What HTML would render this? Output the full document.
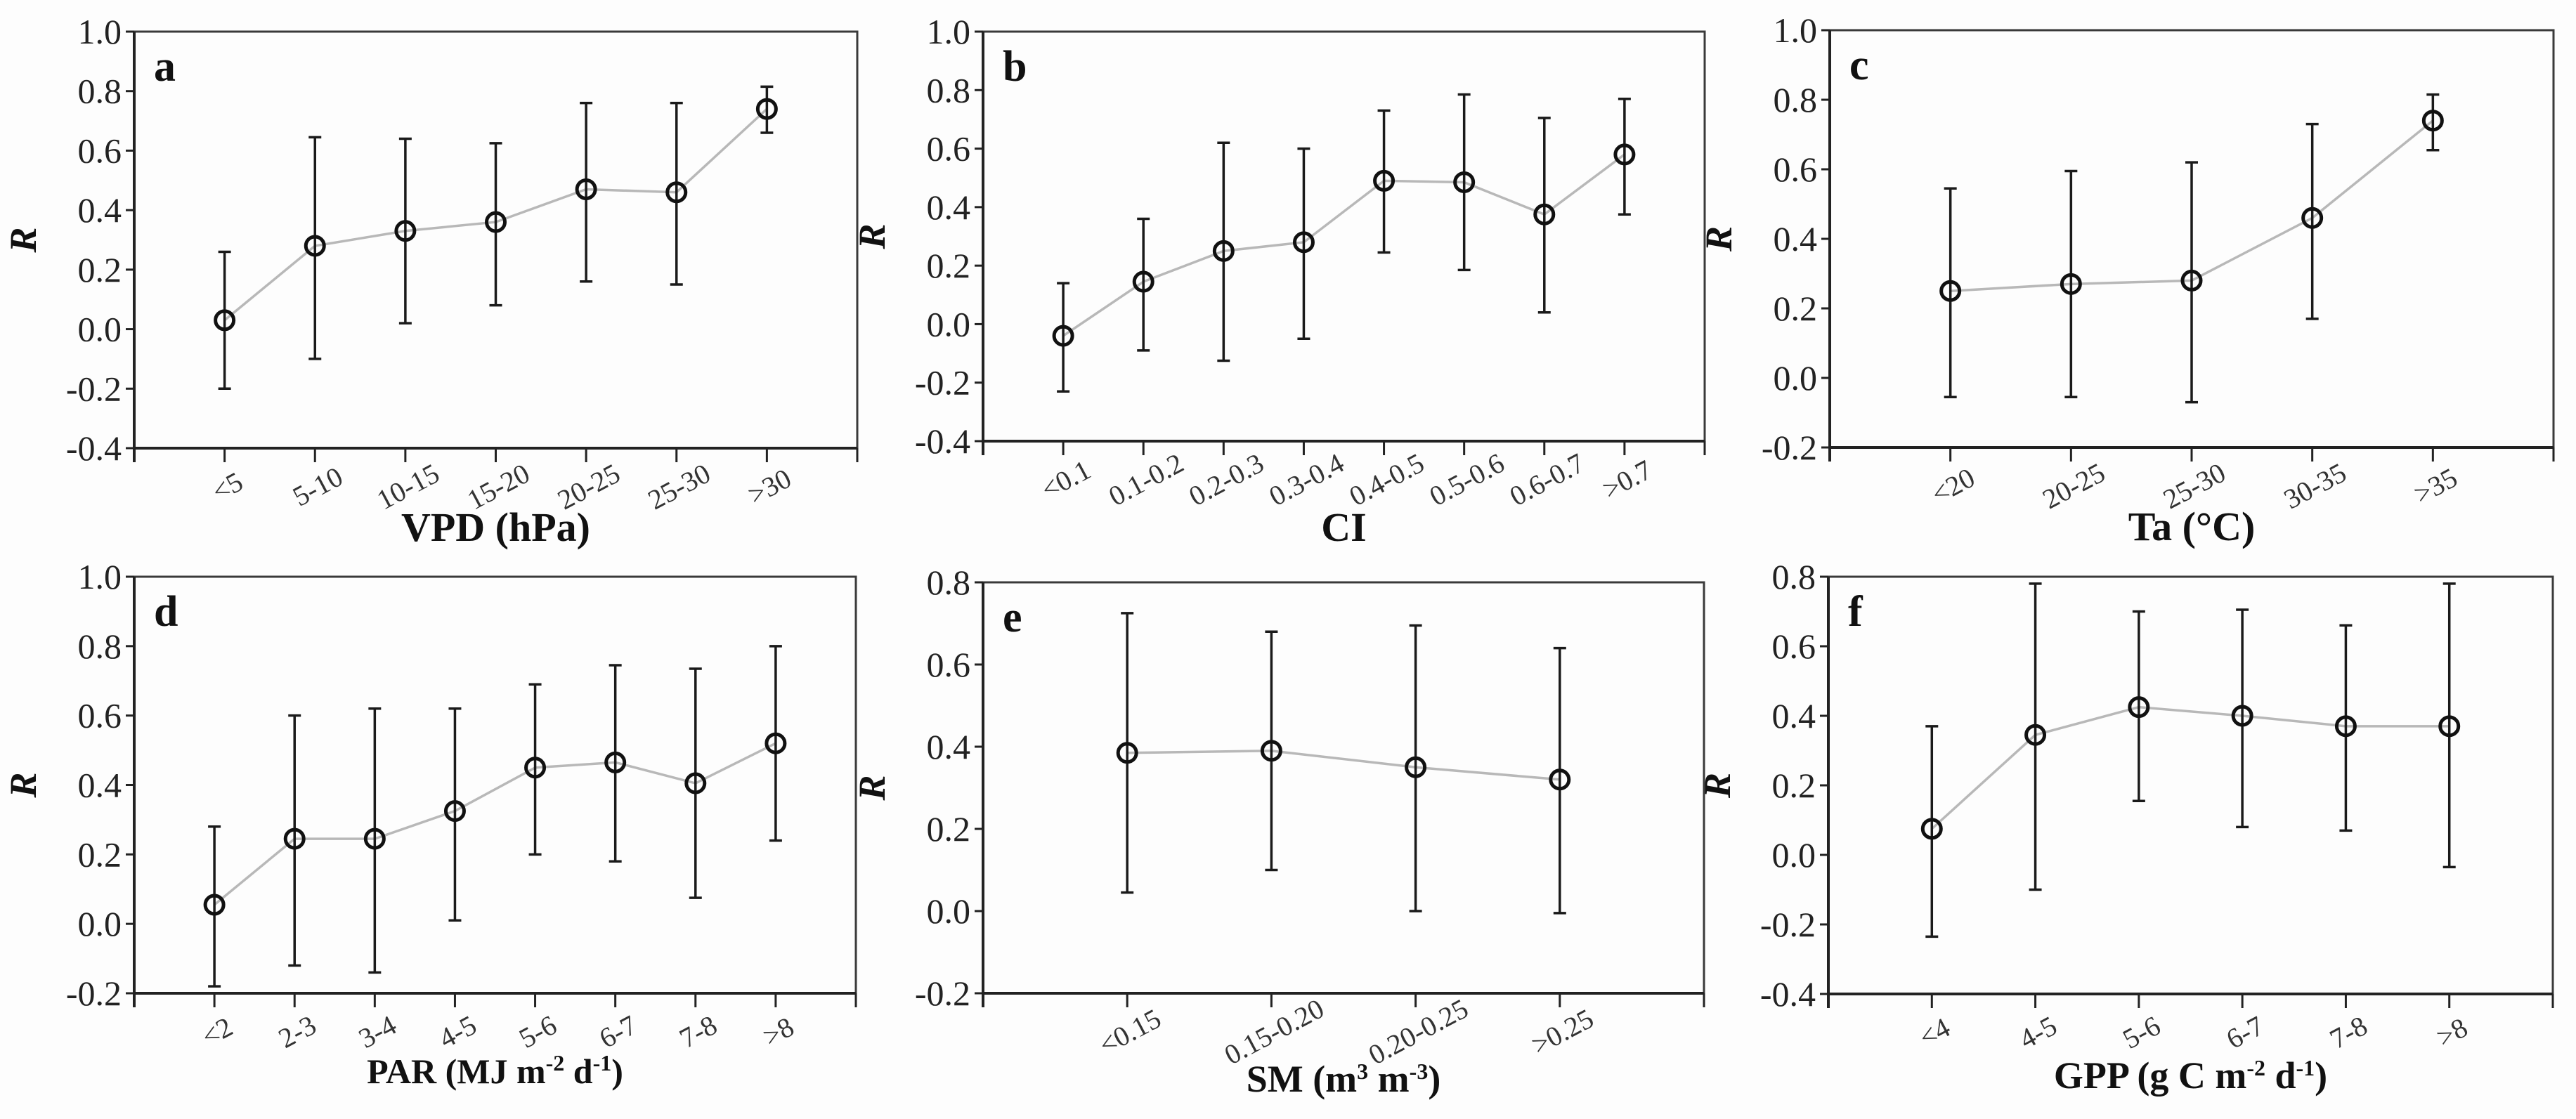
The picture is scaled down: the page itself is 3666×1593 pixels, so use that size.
<!DOCTYPE html>
<html><head><meta charset="utf-8"><style>
html,body{margin:0;padding:0;background:#fff;}
svg{display:block;font-family:"Liberation Serif",serif;}
</style></head><body>
<svg id="fig" width="3666" height="1593" viewBox="0 0 3666 1593" xmlns="http://www.w3.org/2000/svg">
<rect width="3666" height="1593" fill="#fdfdfd"/>
</svg>
<script>
// Panel a
const catsA = ["<5","5-10","10-15","15-20","20-25","25-30",">30"];
const meanA = [0.03,0.28,0.33,0.36,0.47,0.46,0.74];
const loA = [-0.20,-0.10,0.02,0.08,0.16,0.15,0.66];
const hiA = [0.26,0.645,0.64,0.625,0.76,0.76,0.815];
// Panel b
const catsB = ["<0.1","0.1-0.2","0.2-0.3","0.3-0.4","0.4-0.5","0.5-0.6","0.6-0.7",">0.7"];
const meanB = [-0.04,0.145,0.25,0.28,0.49,0.485,0.375,0.58];
const loB = [-0.23,-0.09,-0.125,-0.05,0.245,0.185,0.04,0.375];
const hiB = [0.14,0.36,0.62,0.60,0.73,0.785,0.705,0.77];
// Panel c
const catsC = ["<20","20-25","25-30","30-35",">35"];
const meanC = [0.25,0.27,0.28,0.46,0.74];
const loC = [-0.055,-0.055,-0.07,0.17,0.655];
const hiC = [0.545,0.595,0.62,0.73,0.815];
// Panel d
const catsD = ["<2","2-3","3-4","4-5","5-6","6-7","7-8",">8"];
const meanD = [0.055,0.245,0.245,0.325,0.45,0.465,0.405,0.52];
const loD = [-0.18,-0.12,-0.14,0.01,0.20,0.18,0.075,0.24];
const hiD = [0.28,0.60,0.62,0.62,0.69,0.745,0.735,0.80];
// Panel e
const catsE = ["<0.15","0.15-0.20","0.20-0.25",">0.25"];
const meanE = [0.385,0.39,0.35,0.32];
const loE = [0.045,0.10,0.0,-0.005];
const hiE = [0.725,0.68,0.695,0.64];
// Panel f
const catsF = ["<4","4-5","5-6","6-7","7-8",">8"];
const meanF = [0.075,0.345,0.425,0.40,0.37,0.37];
const loF = [-0.235,-0.10,0.155,0.08,0.07,-0.035];
const hiF = [0.37,0.78,0.70,0.705,0.66,0.78];
// tick labels
const ticksA = ["-0.4","-0.2","0.0","0.2","0.4","0.6","0.8","1.0"];
const ticksB = ticksA;
const ticksC = ["-0.2","0.0","0.2","0.4","0.6","0.8","1.0"];
const ticksD = ticksC;
const ticksE = ["-0.2","0.0","0.2","0.4","0.6","0.8"];
const ticksF = ["-0.4","-0.2","0.0","0.2","0.4","0.6","0.8"];

const NS="http://www.w3.org/2000/svg";
const svg=document.getElementById('fig');
function mk(tag,attrs,parent){const e=document.createElementNS(NS,tag);for(const k in attrs)e.setAttribute(k,attrs[k]);(parent||svg).appendChild(e);return e;}

function panel(id,L,R,T,B,cats,mean,lo,hi,ticks,letter,titleHTML,titleSize,titleOff){
  const g=mk('g',{});
  
  
  const ymin=parseFloat(ticks[0]), ymax=parseFloat(ticks[ticks.length-1]);
  const y=v=>B-(v-ymin)/(ymax-ymin)*(B-T);
  const step=(R-L)/(cats.length+1);
  const x=i=>L+(i+1)*step;
  const fr=mk('rect',{x:L,y:T,width:R-L,height:B-T,fill:'none',stroke:'#3a3a3a','stroke-width':3},g);
  
  
  mk('line',{x1:L,y1:T,x2:L,y2:B+20,stroke:'#222','stroke-width':4},g);
  mk('line',{x1:L,y1:B,x2:R,y2:B,stroke:'#222','stroke-width':4},g);
  mk('line',{x1:R,y1:B,x2:R,y2:B+20,stroke:'#222','stroke-width':3},g);
  ticks.forEach(t=>{
    const v=parseFloat(t);
    mk('line',{x1:L-12,y1:y(v),x2:L,y2:y(v),stroke:'#222','stroke-width':3},g);
    const tx=mk('text',{x:L-18,y:y(v)+17,'text-anchor':'end','font-size':50,fill:'#222'},g);
    tx.textContent=t;
    
    
  });
  cats.forEach((c,i)=>{
    mk('line',{x1:x(i),y1:B,x2:x(i),y2:B+20,stroke:'#222','stroke-width':3},g);
    const tx=mk('text',{x:0,y:13,'text-anchor':'middle','font-size':40,fill:'#333',transform:`translate(${x(i)+4},${B+55}) rotate(-28)`},g);
    tx.textContent=c;
    
    
  });
  const pts=mean.map((m,i)=>x(i)+','+y(m)).join(' ');
  const pl=mk('polyline',{points:pts,fill:'none',stroke:'#b8b8b8','stroke-width':3.5},g);
  
  
  mean.forEach((m,i)=>{
    const eb=mk('g',{stroke:'#1a1a1a','stroke-width':3.5},g);
    
    
    mk('line',{x1:x(i),y1:y(lo[i]),x2:x(i),y2:y(hi[i])},eb);
    mk('line',{x1:x(i)-9,y1:y(lo[i]),x2:x(i)+9,y2:y(lo[i])},eb);
    mk('line',{x1:x(i)-9,y1:y(hi[i]),x2:x(i)+9,y2:y(hi[i])},eb);
  });
  mean.forEach((m,i)=>{
    const c=mk('circle',{cx:x(i),cy:y(m),r:13,fill:'none',stroke:'#111','stroke-width':5},g);
    
    
  });
  const lt=mk('text',{x:L+28,y:T+70,'font-size':62,'font-weight':'bold',fill:'#111'},g);
  lt.textContent=letter;
  
  
  const yt=mk('text',{x:0,y:0,'text-anchor':'middle','font-size':54,'font-weight':'bold','font-style':'italic',fill:'#111',transform:`translate(${L-140},${(T+B)/2}) rotate(-90)`},g);
  yt.textContent='R';
  
  
  const xt=mk('text',{x:(L+R)/2,y:B+titleOff,'text-anchor':'middle','font-size':titleSize,'font-weight':'bold',fill:'#111'},g);
  xt.innerHTML=titleHTML;
  
  
}
const sup=s=>`<tspan baseline-shift="super" font-size="32">${s}</tspan>`;
panel('a',191,1220,45,638,catsA,meanA,loA,hiA,ticksA,'a','VPD (hPa)',58,132);
panel('b',1399,2426,45,628,catsB,meanB,loB,hiB,ticksB,'b','CI',58,142);
panel('c',2604,3634,43,637,catsC,meanC,loC,hiC,ticksC,'c','Ta (°C)',58,132);
panel('d',191,1218,821,1414,catsD,meanD,loD,hiD,ticksD,'d','PAR (MJ m'+sup('-2')+' d'+sup('-1')+')',50,128);
panel('e',1399,2425,829,1414,catsE,meanE,loE,hiE,ticksE,'e','SM (m'+sup('3')+' m'+sup('-3')+')',54,140);
panel('f',2602,3633,821,1415,catsF,meanF,loF,hiF,ticksF,'f','GPP (g C m'+sup('-2')+' d'+sup('-1')+')',54,134);
</script>
</body></html>
